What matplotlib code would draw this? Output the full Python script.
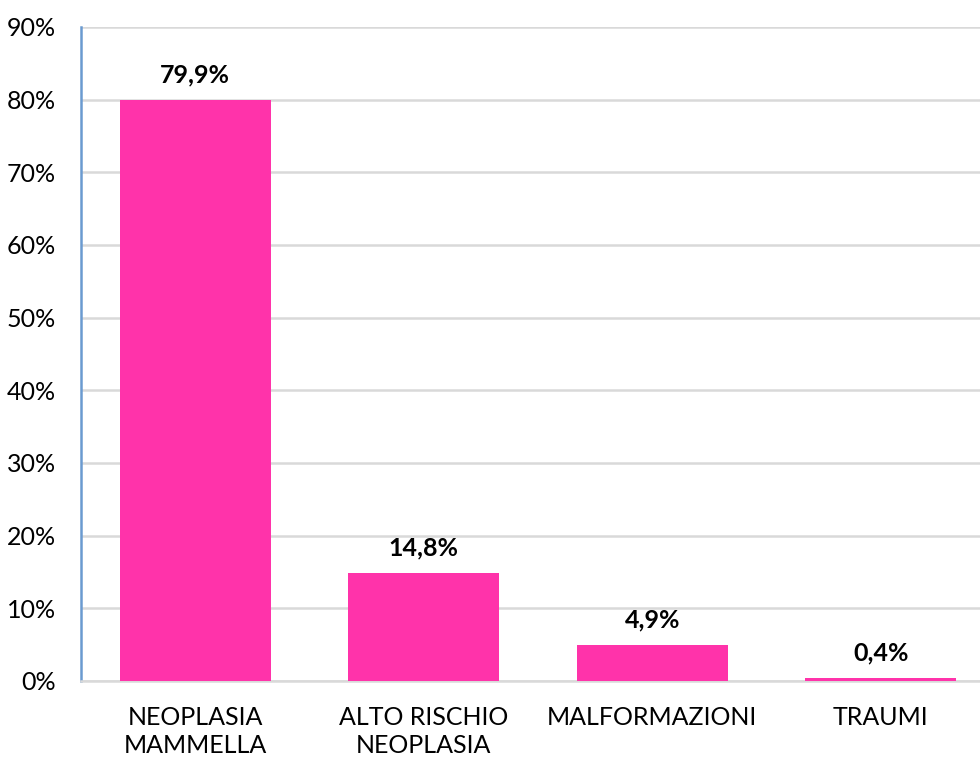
import matplotlib
matplotlib.use("Agg")
import matplotlib.pyplot as plt
from matplotlib.ticker import FuncFormatter, MultipleLocator

categories = ["NEOPLASIA\nMAMMELLA", "ALTO RISCHIO\nNEOPLASIA", "MALFORMAZIONI", "TRAUMI"]
values = [79.9, 14.8, 4.9, 0.4]
value_labels = ["79,9%", "14,8%", "4,9%", "0,4%"]

plt.rcParams['font.family'] = ['Lato', 'DejaVu Sans']

fig = plt.figure(figsize=(9.8, 7.58), dpi=100)
ax = fig.add_axes([0.0827, 0.1016, 0.9327, 0.8628])

x = range(len(categories))
bars = ax.bar(x, values, width=0.66, color="#FF33AA", zorder=3)

ax.set_xlim(-0.5, len(categories) - 0.5)
ax.set_ylim(0, 90)
ax.yaxis.set_major_locator(MultipleLocator(10))
ax.yaxis.set_major_formatter(FuncFormatter(lambda v, p: f"{int(round(v))}%"))
ax.grid(axis="y", color="#D9D9D9", linewidth=1.8, zorder=0)
ax.set_axisbelow(True)

for s in ["top", "right"]:
    ax.spines[s].set_visible(False)
ax.spines["left"].set_color("#6A9AD0")
ax.spines["left"].set_linewidth(1.8)
ax.spines["bottom"].set_color("#D9D9D9")
ax.spines["bottom"].set_linewidth(1.8)

ax.tick_params(axis="y", length=0, labelsize=18, colors="#000000", pad=18)
ax.tick_params(axis="x", length=0, labelsize=18, colors="#000000", pad=18)
ax.set_xticks(list(x))
ax.set_xticklabels(categories, linespacing=1.25)

for b, lab in zip(bars, value_labels):
    ax.annotate(lab, (b.get_x() + b.get_width() / 2, b.get_height()),
                xytext=(0, 10), textcoords="offset points",
                ha="center", va="bottom", fontsize=18, fontweight="bold")

fig.savefig("out.png", dpi=100)
